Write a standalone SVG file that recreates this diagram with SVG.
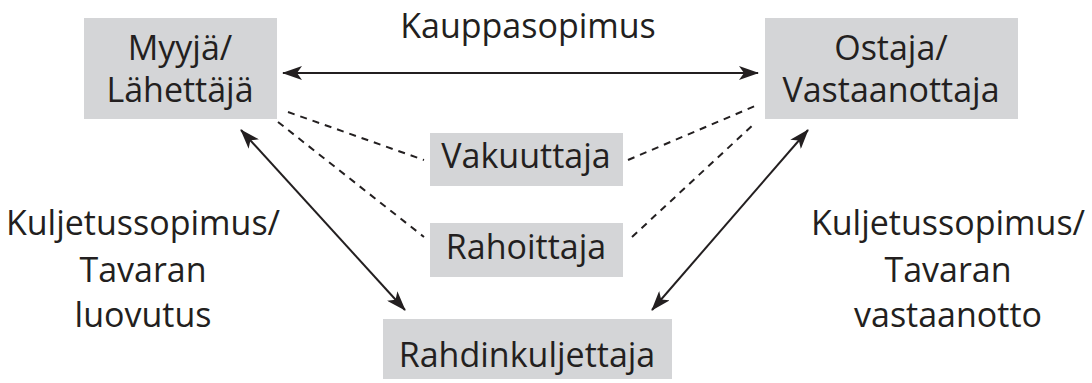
<svg xmlns="http://www.w3.org/2000/svg" width="1092" height="383" viewBox="0 0 1092 383">
  <style>
    .box { fill: #d4d5d7; }
    .lbl { font-family: "Open Sans", "Liberation Sans", sans-serif; font-size: 34px; fill: #231f20; text-anchor: middle; }
    .solid { stroke: #231f20; stroke-width: 2; fill: none; }
    .dash { stroke: #231f20; stroke-width: 2; fill: none; stroke-dasharray: 7 6; }
  </style>
  <defs>
    <marker id="arrow" viewBox="0 0 20 14" refX="19" refY="7" markerWidth="20" markerHeight="14" markerUnits="userSpaceOnUse" orient="auto-start-reverse">
      <path d="M0,0 L20,7 L0,14 L5,7 Z" fill="#231f20"/>
    </marker>
  </defs>

  <rect width="1092" height="383" fill="#ffffff"/>

  <g id="connectors">
    <line class="solid" x1="283" y1="73" x2="758" y2="73" marker-start="url(#arrow)" marker-end="url(#arrow)"/>
    <line class="solid" x1="241" y1="130" x2="405" y2="310" marker-start="url(#arrow)" marker-end="url(#arrow)"/>
    <line class="solid" x1="808" y1="130" x2="652" y2="310" marker-start="url(#arrow)" marker-end="url(#arrow)"/>
    <line class="dash" x1="288" y1="112" x2="424" y2="160"/>
    <line class="dash" x1="278" y1="122" x2="424" y2="237"/>
    <line class="dash" x1="628" y1="160" x2="755" y2="106"/>
    <line class="dash" x1="632" y1="237" x2="755" y2="123"/>
  </g>

  <text class="lbl" x="528" y="38">Kauppasopimus</text>

  <g id="myyja">
    <rect class="box" x="84" y="18" width="193" height="101"/>
    <text class="lbl" x="180" y="60">Myyjä/</text>
    <text class="lbl" x="180" y="102">Lähettäjä</text>
  </g>

  <g id="ostaja">
    <rect class="box" x="765" y="18" width="253" height="101"/>
    <text class="lbl" x="891" y="60">Ostaja/</text>
    <text class="lbl" x="891" y="102">Vastaanottaja</text>
  </g>

  <g id="vakuuttaja">
    <rect class="box" x="430" y="133" width="193" height="53"/>
    <text class="lbl" x="526" y="168">Vakuuttaja</text>
  </g>

  <g id="rahoittaja">
    <rect class="box" x="430" y="223" width="193" height="54"/>
    <text class="lbl" x="526" y="259">Rahoittaja</text>
  </g>

  <g id="rahdinkuljettaja">
    <rect class="box" x="383" y="319" width="289" height="60"/>
    <text class="lbl" x="527" y="367">Rahdinkuljettaja</text>
  </g>

  <g id="vasen-selite">
    <text class="lbl" x="143" y="235">Kuljetussopimus/</text>
    <text class="lbl" x="143" y="282">Tavaran</text>
    <text class="lbl" x="143" y="327">luovutus</text>
  </g>

  <g id="oikea-selite">
    <text class="lbl" x="948" y="235">Kuljetussopimus/</text>
    <text class="lbl" x="948" y="282">Tavaran</text>
    <text class="lbl" x="948" y="327">vastaanotto</text>
  </g>
</svg>
